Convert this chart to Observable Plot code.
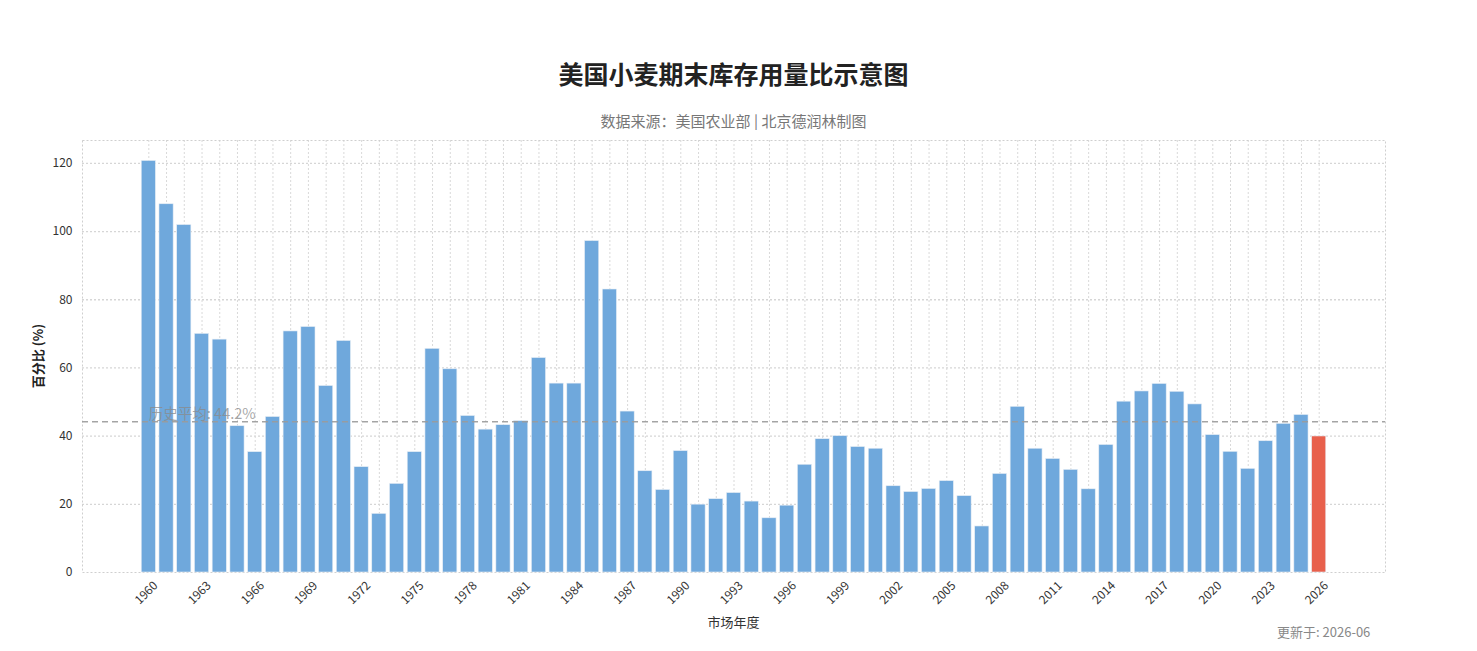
<!DOCTYPE html>
<html><head><meta charset="utf-8">
<script src="https://cdn.jsdelivr.net/npm/d3@7"></script>
<script src="https://cdn.jsdelivr.net/npm/@observablehq/plot@0.6"></script>
<style>
body{margin:0;background:#fff;font-family:"Noto Sans CJK SC","Noto Sans",sans-serif;}
#wrap{position:relative;width:1477px;height:651px;overflow:hidden;}
#title{position:absolute;top:56px;left:0;width:1467px;text-align:center;font-size:25px;font-weight:bold;color:#222;line-height:34px;}
#sub{position:absolute;top:110px;left:0;width:1467px;text-align:center;font-size:15px;color:#777;line-height:22px;}
#chart{position:absolute;top:130px;left:0;}
#xlab{position:absolute;top:611px;left:0;width:1467px;text-align:center;font-size:13px;color:#333;line-height:22px;}
#ylab{position:absolute;left:37px;top:356px;transform:translate(-50%,-50%) rotate(-90deg);font-size:13px;font-weight:bold;color:#222;white-space:nowrap;}
#upd{position:absolute;top:621px;left:1277px;font-size:13px;color:#888;line-height:22px;white-space:nowrap;}
</style></head>
<body>
<div id="wrap">
  <div id="title">美国小麦期末库存用量比示意图</div>
  <div id="sub">数据来源：美国农业部 | 北京德润林制图</div>
  <div id="chart"></div>
  <div id="xlab">市场年度</div>
  <div id="ylab">百分比 (%)</div>
  <div id="upd">更新于: 2026-06</div>
</div>
<script>
const years = [1960,1961,1962,1963,1964,1965,1966,1967,1968,1969,
  1970,1971,1972,1973,1974,1975,1976,1977,1978,1979,
  1980,1981,1982,1983,1984,1985,1986,1987,1988,1989,
  1990,1991,1992,1993,1994,1995,1996,1997,1998,1999,
  2000,2001,2002,2003,2004,2005,2006,2007,2008,2009,
  2010,2011,2012,2013,2014,2015,2016,2017,2018,2019,
  2020,2021,2022,2023,2024,2025,2026];
const ratios = [120.7,108.0,101.9,70.0,68.3,42.9,35.3,45.6,70.7,72.0,
  54.7,67.9,30.9,17.2,26.0,35.3,65.6,59.6,45.9,41.9,
  43.2,44.4,62.9,55.4,55.4,97.2,83.0,47.2,29.7,24.2,
  35.6,19.9,21.5,23.3,20.8,15.9,19.6,31.6,39.1,40.0,
  36.8,36.3,25.3,23.6,24.5,26.8,22.4,13.5,28.9,48.6,
  36.3,33.3,30.1,24.4,37.4,50.1,53.1,55.3,53.0,49.3,
  40.3,35.4,30.4,38.5,43.6,46.2,39.9];
const highlightYear = 2026;
const historicalMean = 44.2;
const meanLabel = "历史平均: 44.2%";
const xTickYears = [1960,1963,1966,1969,1972,1975,1978,1981,1984,1987,1990,1993,1996,1999,2002,2005,2008,2011,2014,2017,2020,2023,2026];
const yTicks = [0,20,40,60,80,100,120];

const blue = "#6fa8dc";
const red = "#e8604c";
const data = years.map((y,i)=>({year:y, value:ratios[i]}));

const chart = Plot.plot({
  width: 1477,
  height: 521,
  marginLeft: 82,
  marginRight: 92,
  marginTop: 10,
  marginBottom: 79,
  style: {fontFamily: '"Noto Sans CJK SC","Noto Sans",sans-serif', background: "#fff"},
  x: {type: "linear", domain: [1956.26, 2029.74]},
  y: {domain: [0, 126.7]},
  marks: [
    Plot.ruleY(yTicks.filter(d=>d>0), {stroke:"#d6d6d6", strokeWidth:1.3, strokeDasharray:"2,2"}),
    Plot.ruleX(years, {stroke:"#d9d9d9", strokeWidth:1, strokeDasharray:"2,2"}),
    Plot.frame({stroke:"#cfcfcf", strokeDasharray:"2,2"}),
    Plot.rectY(data, {
      x1: d=>d.year-0.4, x2: d=>d.year+0.4, y: "value",
      fill: d=> d.year===highlightYear ? red : blue,
      stroke: "#e8eef5", strokeWidth: 0.6
    }),
    Plot.ruleY([historicalMean], {stroke:"#9a9a9a", strokeWidth:1.5, strokeDasharray:"6,4", strokeOpacity:0.9}),
    Plot.text([meanLabel], {x: 1960, y: historicalMean, text: d=>d, textAnchor:"start", dy:-7, dx:0, fontSize:14.5, fill:"#8a8a8a", fillOpacity:0.75}),
    Plot.axisY({ticks: yTicks, tickSize: 0, tickPadding: 10, fontSize: 12, color:"#333", label: null}),
    Plot.axisX({ticks: xTickYears, tickFormat: d=>String(d), tickRotate: -45, tickSize: 0, tickPadding: 8, fontSize: 12, color:"#333", label: null, dx: 7, dy: 3})
  ]
});
document.getElementById("chart").appendChild(chart);
</script>
</body></html>
